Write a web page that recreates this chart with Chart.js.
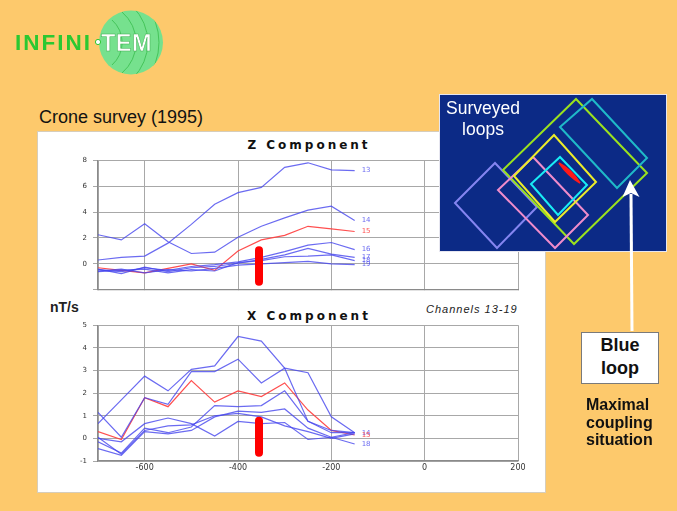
<!DOCTYPE html>
<html>
<head>
<meta charset="utf-8">
<script src="https://cdn.jsdelivr.net/npm/chart.js@4.4.1/dist/chart.umd.min.js"></script>
<style>
  body { margin: 0; width: 677px; height: 511px; background: #fdc96c; position: relative; overflow: hidden;
         font-family: "Liberation Sans", Arial, sans-serif; }
  .abs { position: absolute; white-space: nowrap; }
  #panel { left: 37px; top: 131px; width: 509px; height: 362px; background: #fff; border: 1px solid #d6cdbb; box-sizing: border-box; }
  .ttl { font-family: "DejaVu Sans", sans-serif; font-weight: bold; font-size: 12px; line-height: 12px; letter-spacing: 3px;
         width: 200px; left: 209px; text-align: center; color: #111; }
  canvas { position: absolute; }
</style>
</head>
<body>
<div id="panel" class="abs"></div>
<div class="abs" style="left:39px;top:108px;font-size:18px;line-height:18px;color:#111">Crone survey (1995)</div>
<div class="abs ttl" style="top:138.5px">Z Component</div>
<div class="abs ttl" style="top:310px">X Component</div>
<div class="abs" style="left:50px;top:300px;font-size:14px;line-height:14px;font-weight:bold;color:#222">nT/s</div>
<div class="abs" style="left:426px;top:303.5px;font-size:11px;line-height:11px;font-style:italic;letter-spacing:1px;color:#222">Channels 13-19</div>

<canvas id="zChart" width="480" height="150" style="left:50px;top:150px"></canvas>
<canvas id="xChart" width="480" height="175" style="left:50px;top:315px"></canvas>

<svg class="abs" style="left:0;top:0" width="677" height="511">
  <defs><clipPath id="logoClip"><circle cx="131" cy="42.5" r="32"/></clipPath></defs>
  <circle cx="131" cy="42.5" r="32" fill="#76e18e"/>
  <g clip-path="url(#logoClip)" fill="none" stroke="#45c45a" stroke-width="1">
    <path d="M112 20 A30 30 0 0 1 112 65"/>
    <path d="M122 12 A40 40 0 0 1 122 73"/>
    <path d="M133 7 A50 50 0 0 1 133 78"/>
    <path d="M145 4 A60 60 0 0 1 145 81"/>
  </g>
  <text x="15" y="50" font-family="Liberation Sans" font-weight="bold" font-size="22.5" letter-spacing="2" fill="#2bc831">INFINI</text>
  <circle cx="98" cy="42" r="2.6" fill="#fff" stroke="#2bc831" stroke-width="1"/>
  <text x="101" y="50.5" font-family="Liberation Sans" font-weight="bold" font-size="23.5" letter-spacing="0.5" fill="#fff" stroke="#3fae52" stroke-width="0.5">TEM</text>

  <rect x="439.5" y="94.5" width="227" height="157" fill="#0c2a86" stroke="#e6e6f0" stroke-width="1"/>
  <g fill="none" stroke-width="2">
    <polygon points="455,203 495,163 537,207 497,248" stroke="#8585f0"/>
    <polygon points="503,170 576,99 647,173 574,244" stroke="#9be21e"/>
    <polygon points="560,127 592,99 647,158 617,188" stroke="#1fb9c8"/>
    <polygon points="498,190 533,157 588,215 555,248" stroke="#f08ccb"/>
    <polygon points="514,176 554,135 596,182 555,222" stroke="#ecec2a"/>
    <polygon points="531,184 560,157 587,185 558,215" stroke="#19ecf5"/>
  </g>
  <path d="M559 163 Q572 170 580 183 Q568 176 559 163 Z" fill="#ff1a1a" stroke="#ff1a1a" stroke-width="1.5"/>
  <line x1="632" y1="331" x2="631" y2="194" stroke="#fff" stroke-width="3"/>
  <polygon points="630,180 639.5,197 631,193 622.5,197" fill="#fff"/>
</svg>
<div class="abs" style="left:443px;top:97.5px;width:80px;text-align:center;font-size:17.5px;line-height:21.5px;color:#fff">Surveyed<br>loops</div>
<div class="abs" style="left:581px;top:331.5px;width:78px;height:52px;box-sizing:border-box;background:#fff;border:1px solid #7a7a7a;text-align:center;font-weight:bold;font-size:18px;line-height:23px;padding-top:1px;color:#111">Blue<br>loop</div>
<div class="abs" style="left:586px;top:396px;font-weight:bold;font-size:16px;line-height:17.5px;color:#111">Maximal<br>coupling<br>situation</div>

<script>
// distance along the survey line (m)
const xs = [-700, -650, -600, -550, -500, -450, -400, -350, -300, -250, -200, -150];
const channels = ['13', '14', '15', '16', '17', '18', '19'];

// Z component, channels 13-19
const z13 = [0.3, 0.5, 0.6, 1.6, 3.05, 4.6, 5.5, 5.9, 7.45, 7.8, 7.25, 7.2];
const z14 = [2.25, 1.85, 3.1, 1.7, 0.8, 0.9, 2.05, 2.9, 3.55, 4.15, 4.45, 3.35];
const z15 = [-0.3, -0.5, -0.7, -0.35, 0.0, -0.5, 1.0, 1.85, 2.2, 2.9, 2.7, 2.5];
const z16 = [-0.45, -0.6, -0.3, -0.5, -0.2, -0.05, 0.15, 0.5, 0.95, 1.45, 1.65, 1.1];
const z17 = [-0.4, -0.75, -0.25, -0.6, -0.3, -0.2, 0.05, 0.35, 0.7, 1.2, 0.75, 0.5];
const z18 = [-0.6, -0.5, -0.4, -0.7, -0.45, -0.55, 0.1, 0.25, 0.55, 0.6, 0.7, 0.25];
const z19 = [-0.55, -0.4, -0.7, -0.45, -0.55, -0.35, -0.1, 0.0, 0.1, 0.2, 0.0, -0.05];

// X component, channels 13-19
const x13 = [1.15, 0.05, 1.8, 1.5, 2.95, 2.95, 3.5, 2.45, 3.1, 0.75, 0.35, 0.25];
const x14 = [0.65, 1.7, 2.75, 2.1, 3.05, 3.2, 4.5, 4.3, 3.1, 2.9, 0.95, 0.25];
const x15 = [0.3, -0.05, 1.8, 1.4, 2.55, 1.6, 2.1, 1.85, 2.45, 1.25, 0.35, 0.15];
const x16 = [-0.15, -0.65, 0.45, 0.25, 0.5, 1.45, 1.4, 1.45, 2.1, 0.75, 0.25, 0.25];
const x17 = [0.0, -0.15, 0.65, 0.9, 0.65, 0.1, 0.75, 0.65, 0.7, -0.05, 0.05, 0.25];
const x18 = [-0.45, -0.75, 0.3, 0.2, 0.35, 0.95, 1.2, 1.15, 1.3, 0.45, 0.05, -0.25];
const x19 = [0.05, -0.7, 0.35, 0.55, 0.6, 1.0, 1.1, 0.95, 0.55, 0.3, 0.0, 0.2];

// which channel numbers are written at the line ends
const zTags = ['13', '14', '15', '16', '17', '18', '19'];
const xTags = ['', '14', '15', '', '', '18', ''];

const xTicks = [-700, -600, -400, -200, 0, 200];

// red marker: loop position
const markerX = -355;
const markerZ = [1.05, -1.37];
const markerXc = [0.78, -0.63];

const BLUE = 'rgba(70,70,238,0.8)';
const RED = 'rgba(255,60,60,0.9)';

const endLabels = {
    id: 'endLabels',
    afterDatasetsDraw(chart) {
        const ctx = chart.ctx;
        ctx.save();
        ctx.font = '7px "DejaVu Sans"';
        ctx.textBaseline = 'middle';
        chart.data.datasets.forEach((ds, i) => {
            if (!ds.tag) return;
            const pts = chart.getDatasetMeta(i).data;
            const p = pts[pts.length - 1];
            ctx.fillStyle = ds.borderColor;
            ctx.fillText(ds.tag, p.x + 7, p.y);
        });
        ctx.restore();
    }
};

function makeChart(id, series, tags, yMin, yMax, yStep, marker, showX, xHeight, padTop) {
    const ctx = document.getElementById(id).getContext('2d');
    const datasets = series.map((vals, i) => ({
        label: 'Ch ' + channels[i],
        data: xs.map((x, j) => ({ x: x, y: vals[j] })),
        borderColor: channels[i] === '15' ? RED : BLUE,
        borderWidth: 1.2,
        pointRadius: 0,
        showLine: true,
        tension: 0,
        tag: tags[i],
        order: channels[i] === '15' ? 2 : 1
    }));
    datasets.push({
        label: 'loop',
        data: marker.map(v => ({ x: markerX, y: v })),
        borderColor: '#ff0000',
        borderWidth: 8,
        borderCapStyle: 'round',
        pointRadius: 0,
        showLine: true,
        order: -1
    });
    return new Chart(ctx, {
        type: 'scatter',
        data: { datasets },
        plugins: [endLabels],
        options: {
            responsive: false,
            animation: false,
            layout: { padding: { top: padTop, right: 12, left: 0, bottom: 0 } },
            plugins: { legend: { display: false }, tooltip: { enabled: false } },
            scales: {
                x: {
                    type: 'linear', min: -700, max: 200,
                    afterBuildTicks: s => { s.ticks = xTicks.map(v => ({ value: v })); },
                    afterFit: s => { s.height = xHeight; },
                    ticks: {
                        display: showX, padding: 2, color: '#333',
                        font: { family: 'DejaVu Sans', size: 8 },
                        callback: v => (v === -700 ? '' : v)
                    },
                    grid: { color: '#a8a8a8', lineWidth: 1, tickLength: 0 },
                    border: { color: '#8a8a8a', width: 1.2 }
                },
                y: {
                    min: yMin, max: yMax,
                    afterFit: s => { s.width = 48; },
                    ticks: {
                        stepSize: yStep, padding: 6, color: '#333',
                        font: { family: 'DejaVu Sans', size: 7 },
                        callback: v => (id === 'zChart' && v === yMin ? '' : v)
                    },
                    grid: { color: '#a8a8a8', lineWidth: 1, tickLength: 5 },
                    border: { color: '#8a8a8a', width: 1.2 }
                }
            }
        }
    });
}

makeChart('zChart', [z13, z14, z15, z16, z17, z18, z19], zTags, -2, 8, 2, markerZ, false, 9, 5);
makeChart('xChart', [x13, x14, x15, x16, x17, x18, x19], xTags, -1, 5, 1, markerXc, true, 29, 9);
</script>
</body>
</html>
